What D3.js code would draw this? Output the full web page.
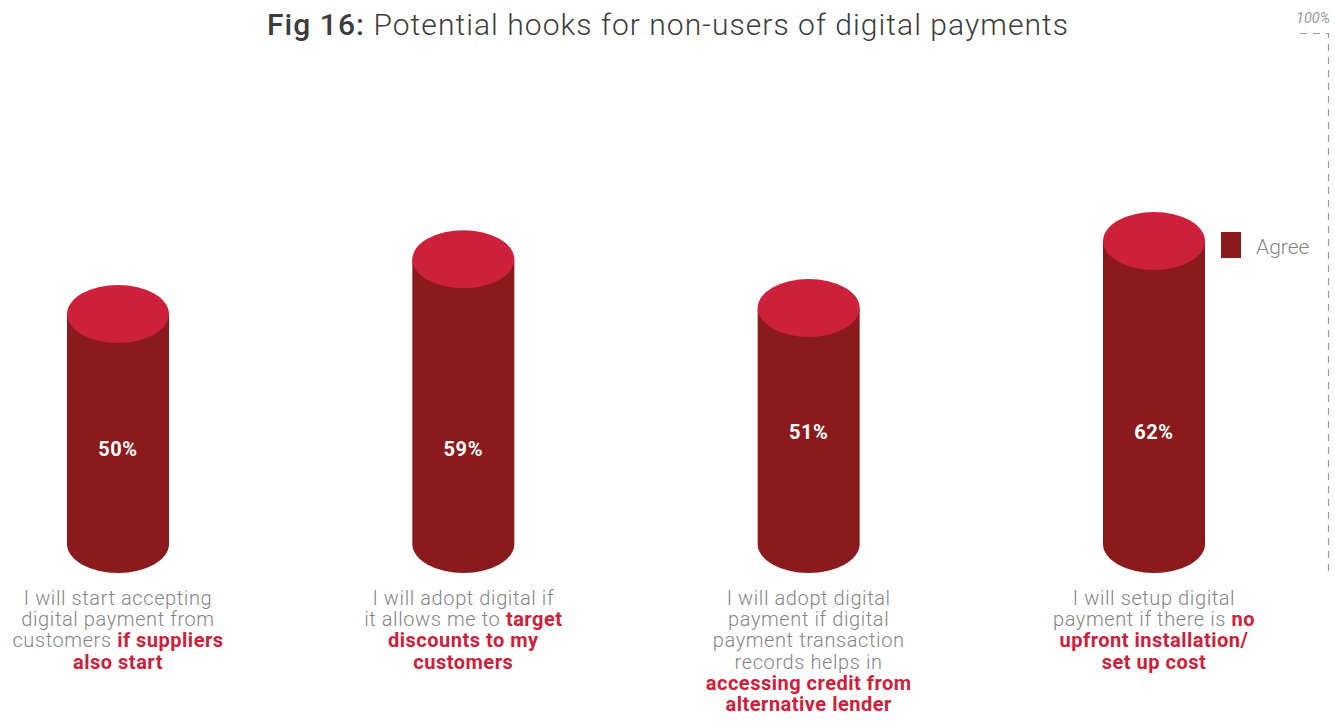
<!DOCTYPE html>
<html><head><meta charset="utf-8">
<script src="https://cdn.jsdelivr.net/npm/d3@7"></script>
<style>
html,body{margin:0;padding:0;background:#fff;}
svg{display:block;font-family:Roboto,"Noto Sans",sans-serif;}
</style></head>
<body><svg id="c" width="1335" height="725"></svg>
<script>
const categories = ["suppliers","discounts","credit","cost"];
const agree = [50, 59, 51, 62];
const valueLabels = ["50%","59%","51%","62%"];
const labelAt = [26.6, 26.6, 29.4, 29.4];
const categoryLines = [
  [[["I will start accepting",0]],[["digital payment from",0]],[["customers ",0],["if suppliers",1]],[["also start",1]]],
  [[["I will adopt digital if",0]],[["it allows me to ",0],["target",1]],[["discounts to my",1]],[["customers",1]]],
  [[["I will adopt digital",0]],[["payment if digital",0]],[["payment transaction",0]],[["records helps in",0]],[["accessing credit from",1]],[["alternative lender",1]]],
  [[["I will setup digital",0]],[["payment if there is ",0],["no",1]],[["upfront installation/",1]],[["set up cost",1]]]
];
const seriesName = "Agree";
const maxTick = "100%";

const svg = d3.select("#c");
const x = d3.scalePoint().domain(categories).range([118, 1154]);
const y = d3.scaleLinear().domain([0, 100]).range([618, 10]);
const baseY = 544, rx = 51, ry = 29;
const bodyCol = "#8b1a1c", topCol = "#cd203b";

// title
const t = svg.append("text").attr("x", 267).attr("y", 35).attr("font-size", 30).attr("fill", "#3c3c3c");
t.append("tspan").attr("font-weight", 500).text("Fig 16:");
t.append("tspan").attr("font-weight", 300).text(" Potential hooks for non-users of digital payments");
const tw = t.node().getComputedTextLength();
const nChars = ("Fig 16: Potential hooks for non-users of digital payments").length;
t.attr("letter-spacing", (801 - tw) / (nChars - 1));

// 100% marker
svg.append("text").attr("x", 1330).attr("y", 23).attr("text-anchor","end").attr("font-size", 14.5)
  .attr("font-style","italic").attr("fill","#999").text(maxTick);
svg.append("path").attr("d", "M1300,33.5H1328.5V572").attr("fill","none").attr("stroke","#9a9a9a")
  .attr("stroke-width",1.2).attr("stroke-dasharray","7,6");

// cylinders
const g = svg.append("g");
categories.forEach((c, i) => {
  const cx = x(c), top = y(agree[i]);
  g.append("path").attr("fill", bodyCol)
    .attr("d", `M${cx-rx},${top}L${cx-rx},${baseY}A${rx},${ry} 0 0 0 ${cx+rx},${baseY}L${cx+rx},${top}Z`);
  g.append("ellipse").attr("cx", cx).attr("cy", top).attr("rx", rx).attr("ry", ry).attr("fill", topCol);
  g.append("text").attr("x", cx).attr("y", y(labelAt[i])).attr("text-anchor","middle")
    .attr("font-size", 20).attr("font-weight", 700).attr("letter-spacing", 0.6).attr("fill","#fff").text(valueLabels[i]);
  categoryLines[i].forEach((line, j) => {
    const tx = g.append("text").attr("x", cx).attr("y", 605 + j*21.2).attr("text-anchor","middle").attr("font-size", 20);
    line.forEach(([s, hi]) => {
      tx.append("tspan").attr("fill", hi ? "#cd203b" : "#858585").attr("font-weight", hi ? 700 : 300)
        .attr("letter-spacing", hi ? 0.5 : 0.6).text(s);
    });
  });
});

// legend
svg.append("rect").attr("x",1221).attr("y",232).attr("width",20).attr("height",26).attr("fill",bodyCol);
svg.append("text").attr("x",1256).attr("y",254).attr("font-size",21).attr("font-weight",300).attr("fill","#858585").text(seriesName);
</script></body></html>
